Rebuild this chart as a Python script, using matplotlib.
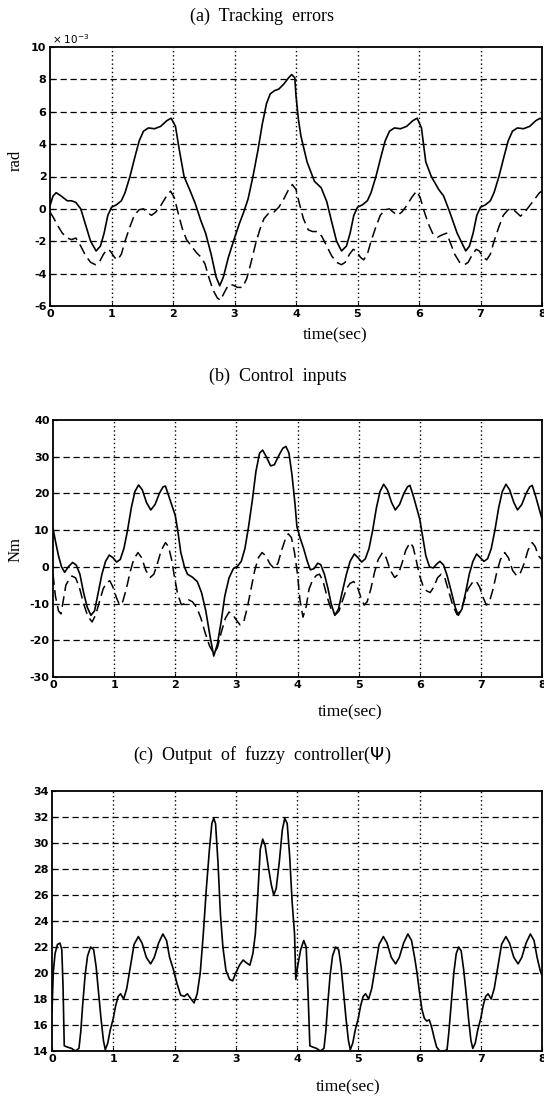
import matplotlib
matplotlib.use("Agg")
import matplotlib.pyplot as plt

# ---- (a) tracking errors, x 10^-3 rad ----
ta_solid = [0.00, 0.05, 0.10, 0.18, 0.28, 0.35, 0.42, 0.50, 0.58, 0.66, 0.75, 0.82, 0.88, 0.94,
            1.00, 1.08, 1.16, 1.22, 1.30, 1.38, 1.45, 1.52, 1.60, 1.70, 1.80, 1.90, 1.97,
            2.04, 2.10, 2.18, 2.28, 2.36, 2.45, 2.53, 2.62, 2.70, 2.76, 2.82, 2.90,
            3.00, 3.08, 3.15, 3.22, 3.30, 3.38, 3.45, 3.52, 3.58, 3.65, 3.72, 3.80, 3.88, 3.93, 3.98,
            4.00, 4.04, 4.08, 4.18, 4.30, 4.41, 4.50, 4.58, 4.66, 4.74, 4.82, 4.88, 4.94,
            5.00, 5.08, 5.16, 5.22, 5.30, 5.38, 5.45, 5.52, 5.60, 5.70, 5.80, 5.90, 5.97,
            6.04, 6.11, 6.20, 6.32, 6.40, 6.50, 6.62, 6.76, 6.82, 6.88, 6.94,
            7.00, 7.08, 7.16, 7.22, 7.30, 7.38, 7.45, 7.52, 7.60, 7.70, 7.80, 7.90, 7.97, 8.00]
ea_solid = [0.2, 0.8, 1.0, 0.8, 0.5, 0.5, 0.4, 0.0, -1.0, -2.0, -2.6, -2.3, -1.5, -0.4,
            0.1, 0.25, 0.5, 1.0, 2.0, 3.2, 4.2, 4.8, 5.0, 4.95, 5.1, 5.45, 5.6,
            5.1, 3.7, 2.0, 1.1, 0.35, -0.7, -1.5, -2.8, -4.2, -4.75, -4.2, -3.0,
            -1.8, -0.9, -0.2, 0.6, 2.0, 3.6, 5.2, 6.5, 7.1, 7.3, 7.4, 7.7, 8.1, 8.3, 8.1,
            7.0, 5.5, 4.5, 2.9, 1.7, 1.3, 0.45, -0.8, -2.0, -2.6, -2.3, -1.5, -0.4,
            0.1, 0.25, 0.5, 1.0, 2.0, 3.2, 4.2, 4.8, 5.0, 4.95, 5.1, 5.45, 5.6,
            5.0, 2.9, 2.0, 1.2, 0.8, -0.2, -1.5, -2.6, -2.3, -1.5, -0.4,
            0.1, 0.25, 0.5, 1.0, 2.0, 3.2, 4.2, 4.8, 5.0, 4.95, 5.1, 5.45, 5.6, 5.5]

ta_dash = [0.00, 0.05, 0.12, 0.20, 0.28, 0.35, 0.42, 0.50, 0.58, 0.66, 0.74, 0.80, 0.87, 0.93, 0.98,
           1.05, 1.10, 1.16, 1.22, 1.30, 1.37, 1.45, 1.52, 1.58, 1.65, 1.72, 1.80, 1.88, 1.96,
           2.02, 2.08, 2.15, 2.22, 2.30, 2.38, 2.46, 2.52, 2.58, 2.65, 2.72, 2.77, 2.83, 2.90, 2.97,
           3.05, 3.13, 3.20, 3.27, 3.34, 3.41, 3.48, 3.56, 3.64, 3.72, 3.80, 3.88, 3.94,
           4.00, 4.05, 4.12, 4.20, 4.27, 4.35, 4.42, 4.50, 4.58, 4.66, 4.74, 4.80, 4.87, 4.93, 4.98,
           5.05, 5.10, 5.16, 5.22, 5.30, 5.37, 5.45, 5.52, 5.58, 5.65, 5.72, 5.80, 5.88, 5.96,
           6.02, 6.08, 6.15, 6.22, 6.30, 6.38, 6.45, 6.50, 6.58, 6.66, 6.74, 6.80, 6.87, 6.93, 6.98,
           7.05, 7.10, 7.16, 7.22, 7.30, 7.37, 7.45, 7.52, 7.58, 7.65, 7.72, 7.80, 7.88, 7.96, 8.00]
ea_dash = [-0.2, -0.5, -1.0, -1.5, -1.8, -1.9, -1.8, -2.3, -2.9, -3.3, -3.45, -3.3, -2.8, -2.5, -2.6,
           -3.0, -3.15, -2.8, -2.0, -1.1, -0.4, -0.05, 0.0, -0.2, -0.4, -0.2, 0.2, 0.7, 1.1,
           0.7, -0.2, -1.2, -1.9, -2.3, -2.7, -3.0, -3.4, -4.2, -5.0, -5.5, -5.65, -5.2, -4.7, -4.7,
           -4.85, -4.85, -4.3, -3.3, -2.2, -1.3, -0.6, -0.25, -0.2, 0.1, 0.6, 1.2, 1.5,
           1.2, 0.4, -0.6, -1.3, -1.4, -1.4, -1.7, -2.3, -2.9, -3.3, -3.45, -3.3, -2.8, -2.5, -2.6,
           -3.0, -3.15, -2.8, -2.0, -1.1, -0.4, -0.05, 0.0, -0.2, -0.4, -0.2, 0.2, 0.7, 1.1,
           0.7, -0.1, -0.9, -1.5, -1.75, -1.6, -1.5, -2.0, -2.8, -3.3, -3.45, -3.3, -2.8, -2.5, -2.6,
           -3.0, -3.15, -2.8, -2.0, -1.1, -0.4, -0.05, 0.0, -0.2, -0.45, -0.2, 0.2, 0.6, 1.0, 1.1]

# ---- (b) control inputs, Nm ----
tb_solid = [0.00, 0.04, 0.09, 0.14, 0.19, 0.25, 0.32, 0.38, 0.44, 0.50, 0.56, 0.62, 0.68, 0.74,
            0.80, 0.86, 0.92, 0.98, 1.04, 1.10, 1.16, 1.22, 1.28, 1.34, 1.40, 1.46, 1.53, 1.60,
            1.67, 1.74, 1.80, 1.84, 1.90, 1.95, 2.00, 2.04, 2.09, 2.15, 2.20, 2.28, 2.36, 2.43,
            2.50, 2.57, 2.63, 2.69, 2.75, 2.81, 2.88, 2.95, 3.02, 3.08, 3.14, 3.20, 3.26, 3.32,
            3.38, 3.43, 3.49, 3.56, 3.62, 3.70, 3.76, 3.81, 3.86, 3.91, 3.96, 3.99, 4.04, 4.10,
            4.16, 4.21, 4.27, 4.33, 4.38, 4.44, 4.50, 4.55, 4.61, 4.67, 4.73, 4.80, 4.86, 4.93,
            4.99, 5.05, 5.11, 5.17, 5.23, 5.29, 5.35, 5.41, 5.47, 5.54, 5.60, 5.67, 5.74, 5.80,
            5.84, 5.90, 5.95, 6.00, 6.05, 6.10, 6.16, 6.22, 6.28, 6.33, 6.39, 6.45, 6.52, 6.58,
            6.63, 6.69, 6.75, 6.81, 6.87, 6.93, 6.99, 7.05, 7.11, 7.17, 7.23, 7.29, 7.35, 7.41,
            7.47, 7.54, 7.60, 7.67, 7.74, 7.80, 7.84, 7.90, 7.95, 8.00]
ub_solid = [10.5, 7, 3, 0, -1.5, 0.0, 1.2, 0.5, -2, -7, -11, -13.2, -12, -7,
            -2, 1.5, 3.2, 2.5, 1.3, 2.0, 5, 10, 16, 20.5, 22.3, 21, 17.5, 15.5,
            17, 20, 21.8, 22, 19, 16.5, 14, 10, 4, 0, -2, -2.8, -4, -7,
            -12, -19, -24.3, -21, -15, -8, -3, -0.5, 0.2, 1.5, 5, 11, 18, 26,
            31, 31.8, 30, 27.5, 27.8, 30.5, 32.3, 32.8, 31, 25, 17, 11, 8, 5,
            1.5, -0.8, -0.5, 1, 0.6, -2, -6, -10, -13.2, -11.5, -7, -2, 1.5, 3.5,
            2.5, 1.3, 2.2, 5, 10, 16, 20.5, 22.5, 21, 17.5, 15.5, 17, 20, 21.8,
            22.2, 19, 16, 13, 8, 3, 0, -0.3, 0.8, 1.5, 0.5, -2.5, -7, -11,
            -13.2, -11.5, -7, -2, 1.5, 3.5, 2.5, 1.5, 2.2, 5, 10, 16, 20.5, 22.5,
            21, 17.5, 15.5, 17, 20, 21.8, 22.2, 19, 16, 13]

tb_dash = [0.00, 0.04, 0.09, 0.13, 0.17, 0.21, 0.26, 0.31, 0.37, 0.43, 0.50, 0.57, 0.64, 0.70,
           0.76, 0.82, 0.88, 0.93, 0.98, 1.04, 1.09, 1.14, 1.20, 1.26, 1.32, 1.39, 1.45, 1.52,
           1.59, 1.65, 1.71, 1.77, 1.84, 1.89, 1.94, 1.99, 2.04, 2.10, 2.16, 2.22, 2.28, 2.35,
           2.42, 2.49, 2.56, 2.63, 2.69, 2.75, 2.82, 2.88, 2.94, 3.00, 3.06, 3.12, 3.18, 3.24,
           3.30, 3.36, 3.42, 3.48, 3.55, 3.62, 3.68, 3.74, 3.80, 3.85, 3.90, 3.95, 4.00, 4.04,
           4.09, 4.14, 4.19, 4.25, 4.31, 4.36, 4.42, 4.49, 4.55, 4.62, 4.68, 4.74, 4.80, 4.86,
           4.92, 4.98, 5.04, 5.09, 5.14, 5.20, 5.26, 5.32, 5.39, 5.45, 5.52, 5.59, 5.65, 5.71,
           5.77, 5.84, 5.89, 5.94, 5.99, 6.05, 6.11, 6.17, 6.23, 6.29, 6.35, 6.41, 6.47, 6.54,
           6.61, 6.67, 6.73, 6.79, 6.86, 6.92, 6.98, 7.04, 7.09, 7.14, 7.20, 7.26, 7.32, 7.39,
           7.45, 7.52, 7.59, 7.65, 7.71, 7.77, 7.84, 7.89, 7.94, 8.00]
ub_dash = [-2, -8, -12, -12.8, -9, -5, -3.5, -2.5, -3, -5.5, -10, -13.5, -15, -13,
           -9.5, -6, -4.2, -3.8, -5.5, -8.5, -10.4, -9.5, -6, -1.5, 2, 3.9, 2.5, -1,
           -2.9, -2, 1, 4.5, 6.6, 5.5, 2, -3, -7.5, -10.3, -10, -9, -9.5, -11,
           -14, -18, -21.5, -23.6, -22, -18, -14, -12.3, -13, -14.5, -15.8, -15, -11, -6,
           -1, 2.5, 3.9, 3, 0.8, -0.5, 1, 4.5, 7.5, 9, 8, 4, -2, -9,
           -13.7, -11, -6, -3.5, -2.3, -2, -4, -8.5, -11.5, -13, -12, -9, -6, -4.5,
           -4, -5.5, -8.5, -10.4, -9.5, -6, -1.5, 2, 3.9, 2.5, -1, -2.9, -2, 1,
           4.5, 6.6, 5.5, 2, -2, -5, -6.5, -7, -5.5, -3, -2, -3, -6.5, -10.5,
           -13, -12, -9, -6, -4.3, -3.8, -5.5, -8.5, -10.4, -9.5, -6, -1.5, 2, 3.9,
           2.5, -1, -2.5, -1.5, 1, 4.5, 6.6, 5.5, 3, 2]

# ---- (c) output of fuzzy controller ----
tc = [0.00, 0.02, 0.05, 0.09, 0.13, 0.16, 0.18, 0.20, 0.25, 0.32, 0.38, 0.44, 0.47, 0.50, 0.54,
      0.58, 0.63, 0.68, 0.72, 0.76, 0.80, 0.84, 0.87, 0.91, 0.95, 1.00, 1.04, 1.08, 1.12, 1.17,
      1.22, 1.28, 1.34, 1.41, 1.47, 1.54, 1.61, 1.67, 1.74, 1.81, 1.87, 1.92, 1.98, 2.04, 2.10,
      2.16, 2.21, 2.27, 2.32, 2.37, 2.42, 2.47, 2.52, 2.57, 2.61, 2.64, 2.67, 2.71, 2.75, 2.79,
      2.84, 2.90, 2.95, 3.00, 3.06, 3.12, 3.17, 3.23, 3.28, 3.32, 3.36, 3.40, 3.44, 3.48, 3.53,
      3.58, 3.62, 3.66, 3.71, 3.76, 3.80, 3.84, 3.88, 3.92, 3.96, 3.98, 4.01, 4.06, 4.11, 4.15,
      4.18, 4.21, 4.26, 4.32, 4.38, 4.44, 4.47, 4.50, 4.54, 4.58, 4.63, 4.68, 4.72, 4.76, 4.80,
      4.84, 4.87, 4.91, 4.95, 5.00, 5.04, 5.08, 5.12, 5.17, 5.22, 5.28, 5.34, 5.41, 5.47, 5.54,
      5.61, 5.67, 5.74, 5.81, 5.87, 5.92, 5.96, 6.00, 6.04, 6.08, 6.12, 6.16, 6.20, 6.24, 6.28,
      6.33, 6.40, 6.45, 6.48, 6.52, 6.56, 6.60, 6.64, 6.68, 6.72, 6.76, 6.80, 6.84, 6.87, 6.91,
      6.95, 7.00, 7.04, 7.08, 7.12, 7.17, 7.22, 7.28, 7.34, 7.41, 7.47, 7.54, 7.61, 7.67, 7.74,
      7.81, 7.87, 7.92, 7.97, 8.00]
psi = [17, 20, 21.5, 22.2, 22.3, 21.8, 19, 14.4, 14.3, 14.2, 14.0, 14.2, 15.5, 17.5, 19.8,
       21.3, 22.0, 21.8, 20.5, 18.5, 16.5, 14.8, 14.1, 14.6, 15.6, 16.5, 17.5, 18.2, 18.4, 18.0,
       18.8, 20.5, 22.2, 22.8, 22.3, 21.2, 20.7, 21.2, 22.3, 23.0, 22.5, 21.2, 20.3, 19.2, 18.3,
       18.2, 18.4, 18.0, 17.7, 18.4, 20.0, 23, 26.5, 29.5, 31.5, 31.9, 31.5, 28.5, 24.5, 22,
       20.2, 19.5, 19.4, 20.0, 20.6, 21.0, 20.8, 20.6, 21.5, 23, 26, 29.5, 30.3, 29.8, 28.2,
       26.8, 26.0, 26.5, 28.5, 31.0, 31.9, 31.5, 29, 25.5, 23, 19.5, 20.5, 21.8, 22.5, 22.0,
       18.5, 14.4, 14.3, 14.2, 14.0, 14.2, 15.5, 17.5, 19.8, 21.3, 22.0, 21.8, 20.5, 18.5, 16.5,
       14.8, 14.1, 14.6, 15.6, 16.5, 17.5, 18.2, 18.4, 18.0, 18.8, 20.5, 22.2, 22.8, 22.3, 21.2,
       20.7, 21.2, 22.3, 23.0, 22.5, 21.2, 20.0, 18.5, 17.2, 16.5, 16.3, 16.4, 15.8, 15.0, 14.3,
       14.0, 14.0, 14.1, 15.5, 17.8, 20.0, 21.5, 22.0, 21.7, 20.3, 18.5, 16.5, 14.8, 14.2, 14.6,
       15.6, 16.5, 17.5, 18.2, 18.4, 18.0, 18.8, 20.5, 22.2, 22.8, 22.3, 21.2, 20.7, 21.2, 22.3,
       23.0, 22.5, 21.2, 20.2, 19.8]

yticks_a = list(range(-6, 11, 2))
yticks_b = list(range(-30, 41, 10))
yticks_c = list(range(14, 35, 2))
xticks = list(range(0, 9))

W, H = 544, 1098
fig = plt.figure(figsize=(W / 100, H / 100), dpi=100)
serif = "Liberation Serif"
tickfont = dict(family="DejaVu Sans", weight="bold", size=8)


def px(l, t, r, b):
    return [l / W, 1 - b / H, (r - l) / W, (b - t) / H]


def style(ax, yticks):
    ax.set_xlim(0, 8)
    ax.set_ylim(yticks[0], yticks[-1])
    ax.set_xticks(xticks)
    ax.set_yticks(yticks)
    ax.set_xticklabels([str(v) for v in xticks], fontdict=tickfont)
    ax.set_yticklabels([str(v) for v in yticks], fontdict=tickfont)
    ax.tick_params(direction="in", length=3, width=0.8, pad=2.5)
    for s in ax.spines.values():
        s.set_linewidth(1.3)
    for x in xticks[1:-1]:
        ax.axvline(x, color="k", lw=1.0, ls=(0, (1, 2)), zorder=1)
    for y in yticks[1:-1]:
        ax.axhline(y, color="k", lw=0.9, ls=(0, (5, 3)), zorder=1)


ax1 = fig.add_axes(px(50, 47, 542, 306))
ax1.plot(ta_solid, ea_solid, color="k", lw=1.2, zorder=3)
ax1.plot(ta_dash, ea_dash, color="k", lw=1.1, dashes=(7, 3.5), zorder=3)
style(ax1, yticks_a)
fig.text(52 / W, 1 - 39 / H, "× 10$^{-3}$", fontsize=7.5, family="DejaVu Sans", va="center")

ax2 = fig.add_axes(px(53, 420, 542, 677))
ax2.plot(tb_solid, ub_solid, color="k", lw=1.2, zorder=3)
ax2.plot(tb_dash, ub_dash, color="k", lw=1.1, dashes=(7, 3.5), zorder=3)
style(ax2, yticks_b)

ax3 = fig.add_axes(px(52, 791, 542, 1051))
ax3.plot(tc, psi, color="k", lw=1.2, zorder=3)
style(ax3, yticks_c)

# titles and axis labels
fig.text(262 / W, 1 - 16 / H, "(a)  Tracking  errors", family=serif, fontsize=13, ha="center", va="center")
fig.text(278 / W, 1 - 376 / H, "(b)  Control  inputs", family=serif, fontsize=13, ha="center", va="center")
fig.text(262 / W, 1 - 755 / H, "(c)  Output  of  fuzzy  controller($\\it{\\Psi}$)", family=serif,
         fontsize=13, ha="center", va="center")
for xc, yc in [(335, 335), (350, 712), (348, 1087)]:
    fig.text(xc / W, 1 - yc / H, "time(sec)", family=serif, fontsize=12.5, ha="center", va="center")
fig.text(16 / W, 1 - 160 / H, "rad", family=serif, fontsize=12, rotation=90, ha="center", va="center")
fig.text(16 / W, 1 - 550 / H, "Nm", family=serif, fontsize=12, rotation=90, ha="center", va="center")

fig.savefig("out.png", dpi=100)
